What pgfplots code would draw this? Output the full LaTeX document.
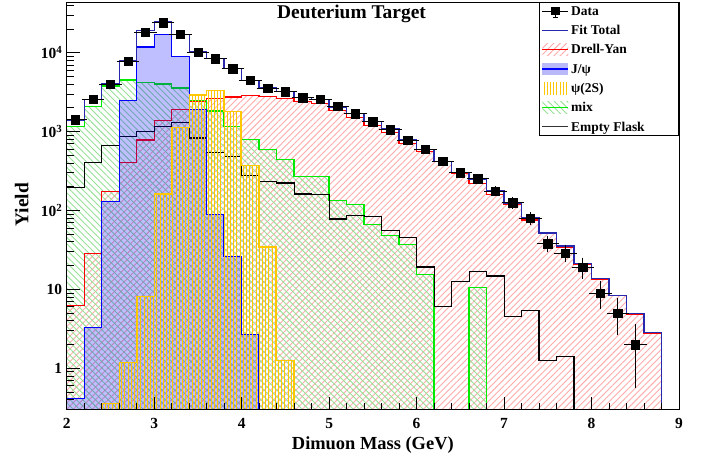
\documentclass[border=0pt]{standalone}
\usepackage{fontspec}
\setmainfont{Liberation Serif}
\usepackage{pgfplots}
\pgfplotsset{compat=1.18}
\usetikzlibrary{patterns.meta}

\definecolor{hatchred}{RGB}{255,170,170}
\definecolor{hatchgreen}{RGB}{150,225,150}
\definecolor{psiyellow}{RGB}{255,200,0}
\definecolor{fitblue}{RGB}{40,40,175}
\definecolor{mixgreen}{RGB}{0,235,0}
\definecolor{jpsifill}{RGB}{185,185,250}

% fixed-size legend text cell
\newcommand{\lt}[1]{\makebox[103bp][l]{\rule{0pt}{10bp}#1}}
% invisible box that fixes the size of every legend image
\newcommand{\legbox}{\path[draw=none,fill=none] (0bp,-6bp) rectangle (26bp,6bp);}

\begin{document}
\begin{tikzpicture}
\begin{axis}[
    at={(0,0)}, anchor=south west,
    scale only axis, width=612.3bp, height=407.5bp,
    xmin=2, xmax=9,
    ymode=log, ymin=0.3, ymax=44000, log origin=infty,
    xtick={2,3,4,5,6,7,8,9},
    xticklabels={2,3,4,5,6,7,8,9},
    minor x tick num=4,
    ytick={1,10,100,1000,10000},
    yticklabels={1,10,10\textsuperscript{2},10\textsuperscript{3},10\textsuperscript{4}},
    minor ytick={0.4,0.5,0.6,0.7,0.8,0.9,2,3,4,5,6,7,8,9,20,30,40,50,60,70,80,90,
                 200,300,400,500,600,700,800,900,2000,3000,4000,5000,6000,7000,8000,9000,
                 20000,30000,40000},
    tick align=inside, tick pos=left,
    major tick length=13bp, minor tick length=7bp,
    every tick/.style={black, line width=0.8bp},
    axis line style={line width=0.8bp},
    tick label style={font=\fontsize{15.5}{16}\selectfont\bfseries},
    xticklabel style={yshift=-5.3bp},
    yticklabel style={xshift=-1bp},
    axis on top,
    legend style={at={(1,1)}, anchor=north east, draw=black, line width=0.8bp,
        fill=white, inner xsep=2.5bp, inner ysep=1bp, row sep=3.8bp,
        font=\fontsize{13.5}{14}\selectfont\bfseries,
        nodes={inner sep=2bp, text depth=0.15em}},
]

% Drell-Yan fill
\addplot[draw=none, pattern={Lines[angle=45,distance=4.5bp,line width=0.9bp]}, pattern color=hatchred,
    const plot mark left, forget plot] coordinates {
    (2.0,6.3)(2.2,28.6)(2.4,173)(2.6,410)(2.8,780)(3.0,1390)(3.2,1900)(3.4,2450)
    (3.6,2650)(3.8,2750)(4.0,2900)(4.2,2800)(4.4,2650)(4.6,2400)(4.8,2250)(5.0,1850)
    (5.2,1500)(5.4,1200)(5.6,980)(5.8,710)(6.0,555)(6.2,414)(6.4,292)(6.6,222)
    (6.8,161)(7.0,120)(7.2,76)(7.4,51)(7.6,34)(7.8,21)(8.0,13.4)(8.2,8.3)(8.4,4.85)
    (8.6,2.8)(8.8,0.01)(9.0,0.01)} \closedcycle;

% mix fill
\addplot[draw=none, pattern={Lines[angle=-45,distance=4.5bp,line width=0.9bp]}, pattern color=hatchgreen,
    const plot mark left, forget plot] coordinates {
    (2.0,1170)(2.2,2090)(2.4,3800)(2.6,4500)(2.8,4230)(3.0,4000)(3.2,3560)(3.4,2490)
    (3.6,1820)(3.8,1170)(4.0,790)(4.2,590)(4.4,440)(4.6,272)(4.8,272)(5.0,135)
    (5.2,119)(5.4,66)(5.6,48)(5.8,37)(6.0,15.4)(6.2,0.01)(6.6,10.5)(6.8,0.01)(9.0,0.01)} \closedcycle;

% Drell-Yan line
\addplot[red, line width=1.3bp, const plot mark left, forget plot] coordinates {
    (2.0,6.3)(2.2,28.6)(2.4,173)(2.6,410)(2.8,780)(3.0,1390)(3.2,1900)(3.4,2450)
    (3.6,2650)(3.8,2750)(4.0,2900)(4.2,2800)(4.4,2650)(4.6,2400)(4.8,2250)(5.0,1850)
    (5.2,1500)(5.4,1200)(5.6,980)(5.8,710)(6.0,555)(6.2,414)(6.4,292)(6.6,222)
    (6.8,161)(7.0,120)(7.2,76)(7.4,51)(7.6,34)(7.8,21)(8.0,13.4)(8.2,8.3)(8.4,4.85)
    (8.6,2.8)(8.8,0.01)(9.0,0.01)};

% mix line
\addplot[mixgreen, line width=1.3bp, const plot mark left, forget plot] coordinates {
    (2.0,1170)(2.2,2090)(2.4,3800)(2.6,4500)(2.8,4230)(3.0,4000)(3.2,3560)(3.4,2490)
    (3.6,1820)(3.8,1170)(4.0,790)(4.2,590)(4.4,440)(4.6,272)(4.8,272)(5.0,135)
    (5.2,119)(5.4,66)(5.6,48)(5.8,37)(6.0,15.4)(6.2,0.01)(6.6,10.5)(6.8,0.01)(9.0,0.01)};

% Empty flask
\addplot[black, line width=1.1bp, const plot mark left, forget plot] coordinates {
    (2.0,194)(2.2,410)(2.4,670)(2.6,870)(2.8,1010)(3.0,1170)(3.2,1300)(3.4,830)
    (3.6,540)(3.8,480)(4.0,280)(4.2,235)(4.4,223)(4.6,162)(4.8,158)(5.0,78)
    (5.2,87)(5.4,83)(5.6,56)(5.8,45)(6.0,19.2)(6.2,6.0)(6.4,12.5)(6.6,17)
    (6.8,14.8)(7.0,4.5)(7.2,5.4)(7.4,1.24)(7.6,1.41)(7.8,0.01)(9.0,0.01)};

% J/psi
\addplot[draw=none, fill=blue, fill opacity=0.25, const plot mark left, forget plot] coordinates {
    (2.0,0.41)(2.2,3.3)(2.4,129)(2.6,2490)(2.8,11800)(3.0,17200)(3.2,8900)(3.4,1900)
    (3.6,89)(3.8,26)(4.0,2.7)(4.2,0.01)(9.0,0.01)} \closedcycle;
\addplot[blue, line width=1.3bp, const plot mark left, forget plot] coordinates {
    (2.0,0.41)(2.2,3.3)(2.4,129)(2.6,2490)(2.8,11800)(3.0,17200)(3.2,8900)(3.4,1900)
    (3.6,89)(3.8,26)(4.0,2.7)(4.2,0.01)(9.0,0.01)};

% psi(2S)
\addplot[draw=none, pattern={Lines[angle=90,distance=3.2bp,line width=1bp]}, pattern color=psiyellow,
    const plot mark left, forget plot] coordinates {
    (2.0,0.01)(2.4,0.36)(2.6,1.18)(2.8,8.2)(3.0,162)(3.2,1120)(3.4,2920)(3.6,3320)
    (3.8,1810)(4.0,375)(4.2,34.6)(4.4,1.26)(4.6,0.01)(9.0,0.01)} \closedcycle;
\addplot[psiyellow, line width=1.3bp, const plot mark left, forget plot] coordinates {
    (2.0,0.01)(2.4,0.36)(2.6,1.18)(2.8,8.2)(3.0,162)(3.2,1120)(3.4,2920)(3.6,3320)
    (3.8,1810)(4.0,375)(4.2,34.6)(4.4,1.26)(4.6,0.01)(9.0,0.01)};

% Fit total
\addplot[fitblue, line width=1.3bp, const plot mark left, forget plot] coordinates {
    (2.0,1390)(2.2,2580)(2.4,4000)(2.6,7900)(2.8,19000)(3.0,25000)(3.2,17200)(3.4,10300)
    (3.6,8400)(3.8,6300)(4.0,4450)(4.2,3560)(4.4,3230)(4.6,2720)(4.8,2560)(5.0,2050)
    (5.2,1690)(5.4,1340)(5.6,1080)(5.8,790)(6.0,590)(6.2,420)(6.4,305)(6.6,250)
    (6.8,176)(7.0,125)(7.2,81)(7.4,52)(7.6,35.4)(7.8,21.3)(8.0,13.6)(8.2,8.4)(8.4,4.9)
    (8.6,2.83)(8.8,0.01)(9.0,0.01)};

% Data
\addplot[black, only marks, mark=square*, mark size=4.2bp, forget plot,
    error bars/.cd, x dir=both, x explicit, y dir=both, y explicit,
    error bar style={black, line width=0.8bp},
    error mark options={black, mark size=2.5bp, line width=0.8bp}] coordinates {
    (2.1,1420) +- (0.1,37.7)   (2.3,2580) +- (0.1,50.8)   (2.5,4000) +- (0.1,63.2)
    (2.7,7850) +- (0.1,88.6)   (2.9,18200) +- (0.1,134.9) (3.1,24000) +- (0.1,154.9)
    (3.3,17200) +- (0.1,131.1) (3.5,10200) +- (0.1,101)   (3.7,8400) +- (0.1,91.7)
    (3.9,6300) +- (0.1,79.4)   (4.1,4450) +- (0.1,66.7)   (4.3,3560) +- (0.1,59.7)
    (4.5,3200) +- (0.1,56.6)   (4.7,2700) +- (0.1,52)     (4.9,2580) +- (0.1,50.8)
    (5.1,2090) +- (0.1,45.7)   (5.3,1690) +- (0.1,41.1)   (5.5,1340) +- (0.1,36.6)
    (5.7,1060) +- (0.1,32.6)   (5.9,777) +- (0.1,27.9)    (6.1,600) +- (0.1,24.5)
    (6.3,420) +- (0.1,20.5)    (6.5,300) +- (0.1,17.3)    (6.7,254) +- (0.1,15.9)
    (6.9,176) +- (0.1,13.3)    (7.1,125) +- (0.1,11.2)    (7.3,80) +- (0.1,8.9)
    (7.5,38) +- (0.1,6.2)      (7.7,29) +- (0.1,5.4)      (7.9,19) +- (0.1,4.4)
    (8.1,9) +- (0.1,3)         (8.3,5) +- (0.1,2.2)       (8.5,2) +- (0.1,1.4)};

% legend entries
\addlegendimage{legend image code/.code={\legbox
    \draw[black, line width=0.8bp] (0bp,0bp) -- (26bp,0bp);
    \draw[black, line width=0.8bp] (13bp,0bp) -- (13bp,-6bp) (10.5bp,-6bp) -- (15.5bp,-6bp);
    \fill[black, draw=none] (8.8bp,-4bp) rectangle (17.2bp,4bp);}}
\addlegendentry{\lt{Data}}
\addlegendimage{legend image code/.code={\legbox
    \draw[fitblue, line width=1.3bp] (0bp,0bp) -- (26bp,0bp);}}
\addlegendentry{\lt{Fit Total}}
\addlegendimage{legend image code/.code={\legbox
    \path[draw=none, pattern={Lines[angle=45,distance=4.5bp,line width=0.9bp]}, pattern color=hatchred] (0bp,-6bp) rectangle (26bp,6bp);
    \draw[red, line width=1.3bp] (0bp,0bp) -- (26bp,0bp);}}
\addlegendentry{\lt{Drell-Yan}}
\addlegendimage{legend image code/.code={\legbox
    \path[draw=none, fill=jpsifill] (0bp,-6bp) rectangle (26bp,6bp);
    \draw[blue, line width=1.3bp] (0bp,0bp) -- (26bp,0bp);}}
\addlegendentry{\lt{J/ψ}}
\addlegendimage{legend image code/.code={\legbox
    \path[draw=none, pattern={Lines[angle=90,distance=3.2bp,line width=1bp]}, pattern color=psiyellow] (0bp,-6bp) rectangle (26bp,6bp);}}
\addlegendentry{\lt{ψ(2S)}}
\addlegendimage{legend image code/.code={\legbox
    \path[draw=none, pattern={Lines[angle=-45,distance=4.5bp,line width=0.9bp]}, pattern color=hatchgreen] (0bp,-6bp) rectangle (26bp,6bp);
    \draw[mixgreen, line width=1.3bp] (0bp,0bp) -- (26bp,0bp);}}
\addlegendentry{\lt{mix}}
\addlegendimage{legend image code/.code={\legbox
    \draw[black!80, line width=1.1bp] (0bp,0bp) -- (26bp,0bp);}}
\addlegendentry{\lt{Empty Flask}}
\end{axis}

\node[anchor=base, font=\fontsize{19.5}{20}\selectfont\bfseries] at (284.8bp,390.5bp) {Deuterium Target};
\node[anchor=base, font=\fontsize{18.5}{19}\selectfont\bfseries] at (306.15bp,-40bp) {Dimuon Mass (GeV)};
\node[anchor=base, rotate=90, font=\fontsize{19.5}{20}\selectfont\bfseries] at (-38.4bp,204.8bp) {Yield};

\pgfresetboundingbox
\path[use as bounding box] (-66.7bp,-47.5bp) rectangle (636.3bp,409.5bp);
\end{tikzpicture}
\end{document}
